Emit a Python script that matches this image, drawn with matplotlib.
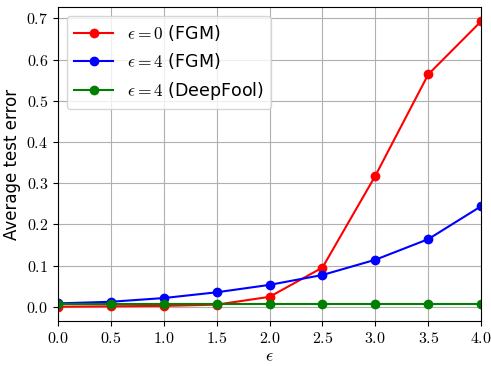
import numpy as np
import matplotlib
matplotlib.use('Agg')
import matplotlib.pyplot as plt
from matplotlib.ticker import FuncFormatter

plt.rcParams['mathtext.fontset'] = 'cm'

# data
eps = [0.0, 0.5, 1.0, 1.5, 2.0, 2.5, 3.0, 3.5, 4.0]
err_fgm0 = [0.0, 0.001, 0.002, 0.005, 0.024, 0.095, 0.318, 0.564, 0.693]
err_fgm4 = [0.008, 0.012, 0.021, 0.035, 0.053, 0.077, 0.114, 0.164, 0.244]
err_deepfool4 = [0.007] * 9

fig, ax = plt.subplots(figsize=(4.91, 3.66), dpi=100)
plt.subplots_adjust(left=0.118, right=0.98, top=0.981, bottom=0.123)

ax.plot(eps, err_fgm0, marker='o', color='red', label=r'$\epsilon = 0$ (FGM)')
ax.plot(eps, err_fgm4, marker='o', color='blue', label=r'$\epsilon = 4$ (FGM)')
ax.plot(eps, err_deepfool4, marker='o', color='green', label=r'$\epsilon = 4$ (DeepFool)')

ax.set_xlim(0, 4)
ax.set_xticks(np.arange(0, 4.01, 0.5))
ax.xaxis.set_major_formatter(FuncFormatter(lambda v, p: r'$%.1f$' % v))
ax.yaxis.set_major_formatter(FuncFormatter(lambda v, p: r'$%.1f$' % v))
ax.tick_params(labelsize=11.5)

ax.set_xlabel(r'$\epsilon$', fontsize=13, labelpad=1)
ax.set_ylabel('Average test error', fontsize=12)
ax.grid(True)
ax.legend(fontsize=12.5, loc='upper left', handlelength=2.3)

fig.savefig('out.png', dpi=100)
